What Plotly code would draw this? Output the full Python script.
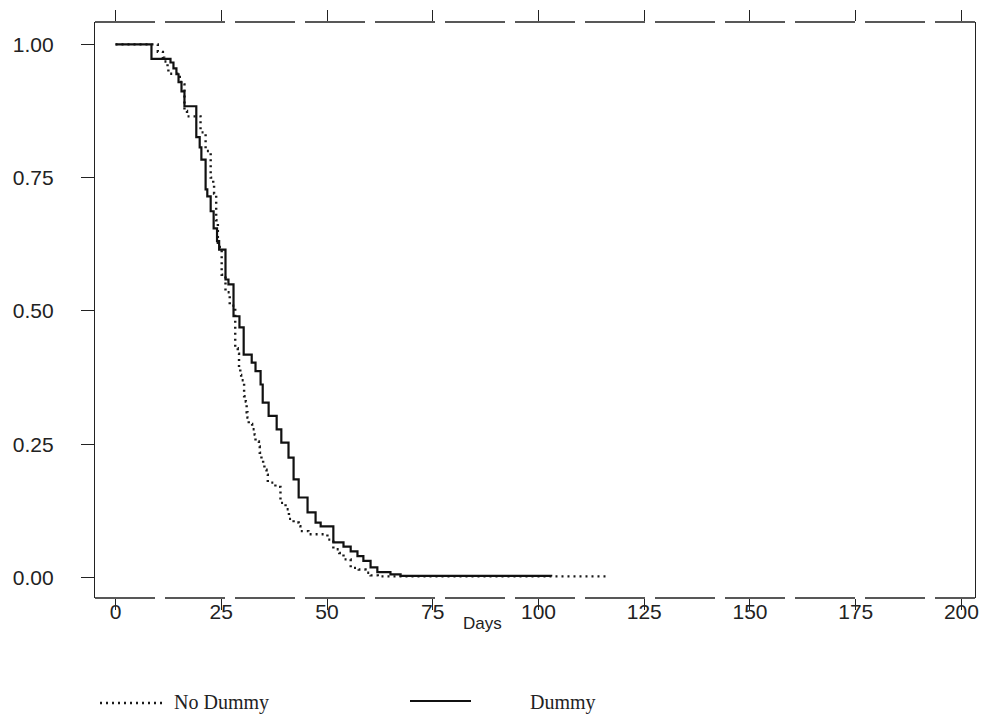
import plotly.graph_objects as go

# Kaplan-Meier style step data
dummy_days = [0, 8.5, 13.0, 13.7, 14.4, 14.9, 15.6, 16.3, 19.1, 19.9, 20.3, 21.3, 21.7, 22.5,
              23.2, 24.0, 24.5, 26.0, 26.7, 27.9, 29.3, 30.3, 32.2, 33.1, 34.3, 34.8, 36.2,
              38.1, 39.2, 40.9, 42.1, 43.3, 45.4, 47.3, 48.5, 51.5, 53.9, 55.6, 57.2, 58.6,
              60.3, 61.9, 65.0, 67.4, 103.0]
dummy_surv = [1.0, 0.973, 0.966, 0.955, 0.944, 0.929, 0.912, 0.884, 0.826, 0.807, 0.784, 0.728,
              0.715, 0.687, 0.655, 0.631, 0.615, 0.559, 0.55, 0.49, 0.469, 0.418, 0.403, 0.387,
              0.362, 0.328, 0.303, 0.278, 0.253, 0.225, 0.184, 0.150, 0.122, 0.103, 0.096,
              0.066, 0.058, 0.049, 0.040, 0.031, 0.019, 0.010, 0.006, 0.003, 0.002]

nodummy_days = [0, 10.0, 11.2, 11.5, 12.3, 12.5, 14.6, 15.5, 16.3, 16.9, 20.1, 21.3, 22.5, 23.1,
                23.3, 23.8, 24.2, 25.1, 26.0, 27.0, 28.3, 28.9, 29.2, 29.5, 29.7, 30.4, 30.8,
                31.0, 31.2, 31.5, 32.3, 32.9, 33.1, 33.9, 34.1, 34.5, 34.9, 35.2, 35.7, 36.0,
                37.8, 39.0, 40.2, 41.0, 42.1, 43.3, 43.7, 45.6, 50.1, 51.5, 52.9, 53.9, 55.6,
                57.5, 59.1, 60.3, 62.0, 116.5]
nodummy_surv = [1.0, 0.986, 0.975, 0.968, 0.958, 0.945, 0.939, 0.925, 0.875, 0.865, 0.835, 0.80,
                0.75, 0.74, 0.72, 0.67, 0.62, 0.568, 0.535, 0.51, 0.43, 0.42, 0.395, 0.38, 0.37,
                0.34, 0.33, 0.31, 0.30, 0.288, 0.278, 0.268, 0.255, 0.246, 0.234, 0.222, 0.212,
                0.202, 0.193, 0.178, 0.17, 0.14, 0.128, 0.11, 0.103, 0.096, 0.087, 0.081, 0.071,
                0.053, 0.046, 0.034, 0.018, 0.015, 0.009, 0.004, 0.002, 0.002]

x_ticks = [0, 25, 50, 75, 100, 125, 150, 175, 200]
y_ticks = [0.0, 0.25, 0.5, 0.75, 1.0]
y_tick_labels = ["0.00", "0.25", "0.50", "0.75", "1.00"]
legend_labels = ["No Dummy", "Dummy"]

fig = go.Figure()
fig.add_trace(go.Scatter(x=nodummy_days, y=nodummy_surv, mode="lines", name=legend_labels[0],
                         line=dict(shape="hv", color="#1a1a1a", width=2.4, dash="2px,4px"),
                         showlegend=False))
fig.add_trace(go.Scatter(x=dummy_days, y=dummy_surv, mode="lines", name=legend_labels[1],
                         line=dict(shape="hv", color="#111111", width=2.2),
                         showlegend=False))

L, R, T, B = 95, 7, 22, 123
W, H = 982, 721
pw, ph = W - L - R, H - T - B

def px_x(p):
    return (p - L) / pw

def px_y(p):
    return (H - B - p) / ph

tick_font = dict(family="Liberation Sans, Arial, sans-serif", size=21, color="#222222")

fig.update_layout(
    width=W, height=H,
    margin=dict(l=L, r=R, t=T, b=B, autoexpand=False),
    paper_bgcolor="white", plot_bgcolor="white",
    xaxis=dict(range=[-4.85, 203.2], tickvals=x_ticks, ticktext=[str(v) for v in x_ticks],
               ticks="outside", ticklen=11, tickwidth=1.2, tickcolor="#222",
               showline=False, mirror="ticks", showgrid=False, zeroline=False,
               tickfont=tick_font, ticklabelstandoff=-16, automargin=False),
    yaxis=dict(range=[-0.0385, 1.042], tickvals=y_ticks, ticktext=y_tick_labels,
               ticks="outside", ticklen=13, tickwidth=1.2, tickcolor="#222",
               showline=True, linecolor="#222", linewidth=1.4, mirror=True,
               showgrid=False, zeroline=False, tickfont=tick_font, ticklabelstandoff=23,
               automargin=False),
)

# frame top / bottom (broken scan-like lines)
for yv in (0, 1):
    fig.add_shape(type="line", xref="paper", yref="paper", x0=0, x1=1, y0=yv, y1=yv,
                  line=dict(color="#222", width=1.4, dash="60px,10px"))

# x-axis title
fig.add_annotation(text="Days", xref="paper", yref="paper", x=px_x(482), y=px_y(623),
                   xanchor="center", yanchor="middle", showarrow=False,
                   font=dict(family="Liberation Sans, Arial, sans-serif", size=17, color="#222"))

# legend
legend_font = dict(family="Liberation Serif, Times New Roman, serif", size=20, color="#222")
fig.add_shape(type="line", xref="paper", yref="paper", x0=px_x(100), x1=px_x(166),
              y0=px_y(703), y1=px_y(703), line=dict(color="#1a1a1a", width=2.4, dash="2px,4px"))
fig.add_annotation(text=legend_labels[0], xref="paper", yref="paper", x=px_x(172), y=px_y(702),
                   xanchor="left", yanchor="middle", showarrow=False, font=legend_font)
fig.add_shape(type="line", xref="paper", yref="paper", x0=px_x(410), x1=px_x(471),
              y0=px_y(701), y1=px_y(701), line=dict(color="#111", width=2.2))
fig.add_annotation(text=legend_labels[1], xref="paper", yref="paper", x=px_x(528), y=px_y(702),
                   xanchor="left", yanchor="middle", showarrow=False, font=legend_font)

fig.write_html("out.html", config={"displayModeBar": False},
               post_script="document.body.style.margin='0px';")
